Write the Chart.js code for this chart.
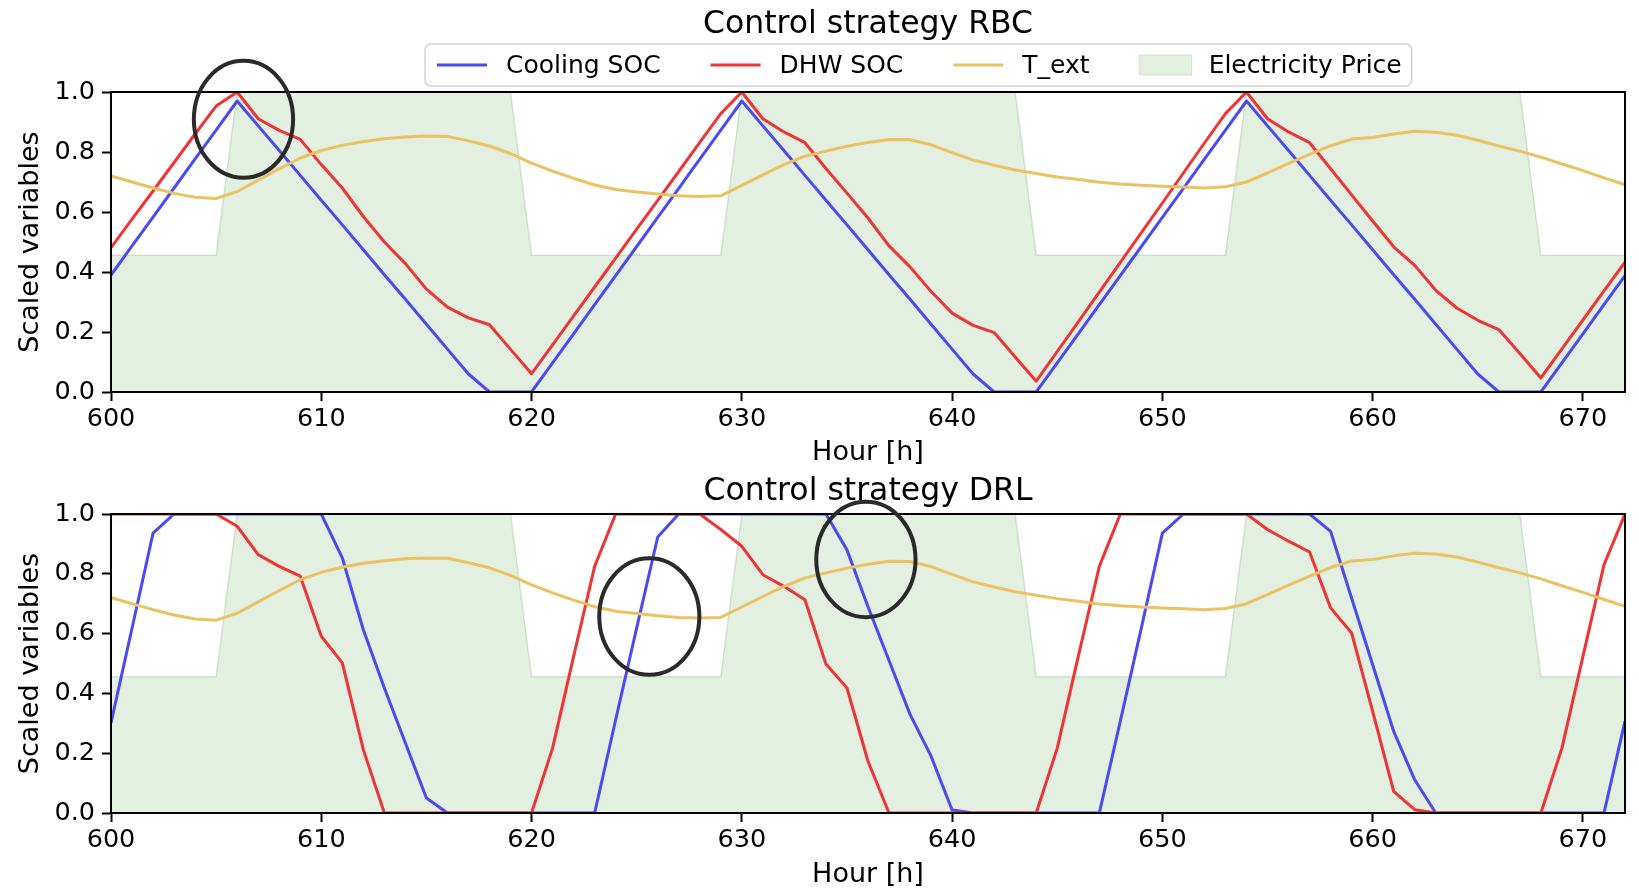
<!DOCTYPE html>
<html>
<head>
<meta charset="utf-8">
<title>Control strategy RBC / DRL</title>
<script src="https://cdn.jsdelivr.net/npm/chart.js@4.4.1/dist/chart.umd.min.js"></script>
<style>
  html, body { margin: 0; padding: 0; background: #fff; }
  body { width: 1639px; height: 893px; position: relative; overflow: hidden; }
  canvas { position: absolute; left: 0; }
  #rbc { top: 0; }
  #drl { top: 470px; }
</style>
</head>
<body>
<canvas id="rbc" width="1639" height="470"></canvas>
<canvas id="drl" width="1639" height="423"></canvas>
<script>
// ---- data -------------------------------------------------------------
const hours = [
  600, 601, 602, 603, 604, 605, 606, 607, 608, 609,
  610, 611, 612, 613, 614, 615, 616, 617, 618, 619,
  620, 621, 622, 623, 624, 625, 626, 627, 628, 629,
  630, 631, 632, 633, 634, 635, 636, 637, 638, 639,
  640, 641, 642, 643, 644, 645, 646, 647, 648, 649,
  650, 651, 652, 653, 654, 655, 656, 657, 658, 659,
  660, 661, 662, 663, 664, 665, 666, 667, 668, 669,
  670, 671, 672
];

// outdoor temperature (scaled), shared by both strategies
const tExt = [
  0.720, 0.700, 0.680, 0.662, 0.649, 0.645, 0.668, 0.706, 0.744, 0.780,
  0.805, 0.822, 0.835, 0.844, 0.850, 0.853, 0.852, 0.837, 0.820, 0.795,
  0.763, 0.736, 0.712, 0.690, 0.675, 0.667, 0.660, 0.654, 0.652, 0.654,
  0.689, 0.724, 0.758, 0.786, 0.803, 0.819, 0.832, 0.842, 0.841, 0.824,
  0.798, 0.773, 0.756, 0.740, 0.728, 0.717, 0.708, 0.699, 0.693, 0.689,
  0.686, 0.683, 0.680, 0.684, 0.700, 0.730, 0.762, 0.792, 0.821, 0.843,
  0.848, 0.860, 0.869, 0.866, 0.856, 0.839, 0.820, 0.803, 0.783, 0.760,
  0.738, 0.714, 0.691
];

// electricity price (scaled): off-peak / peak tariff
const price = [
  0.456, 0.456, 0.456, 0.456, 0.456, 0.456, 1, 1, 1, 1,
  1, 1, 1, 1, 1, 1, 1, 1, 1, 1,
  0.456, 0.456, 0.456, 0.456, 0.456, 0.456, 0.456, 0.456, 0.456, 0.456,
  1, 1, 1, 1, 1, 1, 1, 1, 1, 1,
  1, 1, 1, 1, 0.456, 0.456, 0.456, 0.456, 0.456, 0.456,
  0.456, 0.456, 0.456, 0.456, 1, 1, 1, 1, 1, 1,
  1, 1, 1, 1, 1, 1, 1, 1, 0.456, 0.456,
  0.456, 0.456, 0.456
];

// rule-based controller
const rbcCooling = [
  0.390, 0.487, 0.583, 0.680, 0.777, 0.873, 0.970, 0.887, 0.805, 0.722,
  0.639, 0.557, 0.474, 0.391, 0.309, 0.226, 0.143, 0.060, 0, 0,
  0, 0.097, 0.194, 0.291, 0.388, 0.485, 0.582, 0.679, 0.776, 0.873,
  0.970, 0.887, 0.805, 0.722, 0.639, 0.557, 0.474, 0.391, 0.309, 0.226,
  0.143, 0.060, 0, 0, 0, 0.097, 0.194, 0.291, 0.388, 0.485,
  0.582, 0.679, 0.776, 0.873, 0.970, 0.887, 0.805, 0.722, 0.639, 0.557,
  0.474, 0.391, 0.309, 0.226, 0.143, 0.060, 0, 0, 0, 0.097,
  0.194, 0.291, 0.388
];
const rbcDhw = [
  0.481, 0.576, 0.670, 0.765, 0.860, 0.953, 1.000, 0.911, 0.872, 0.842,
  0.758, 0.680, 0.585, 0.500, 0.428, 0.343, 0.283, 0.247, 0.224, 0.142,
  0.061, 0.157, 0.254, 0.350, 0.446, 0.543, 0.639, 0.735, 0.832, 0.928,
  1.000, 0.911, 0.867, 0.831, 0.745, 0.663, 0.580, 0.487, 0.417, 0.335,
  0.263, 0.222, 0.198, 0.117, 0.036, 0.135, 0.234, 0.333, 0.432, 0.531,
  0.630, 0.730, 0.830, 0.928, 1.000, 0.911, 0.867, 0.831, 0.744, 0.657,
  0.570, 0.484, 0.422, 0.339, 0.280, 0.239, 0.208, 0.128, 0.047, 0.144,
  0.240, 0.337, 0.433
];

// deep reinforcement learning controller
const drlCooling = [
  0.301, 0.618, 0.936, 1, 1, 1, 1, 1, 1, 1,
  1, 0.853, 0.613, 0.418, 0.234, 0.050, 0, 0, 0, 0,
  0, 0, 0, 0, 0.312, 0.619, 0.923, 1, 1, 1,
  1, 1, 1, 1, 1, 0.880, 0.690, 0.510, 0.330, 0.190,
  0.010, 0, 0, 0, 0, 0, 0, 0, 0.307, 0.619,
  0.936, 1, 1, 1, 1, 1, 1, 1, 0.942, 0.718,
  0.496, 0.273, 0.111, 0, 0, 0, 0, 0, 0, 0,
  0, 0, 0.307
];
const drlDhw = [
  1, 1, 1, 1, 1, 1, 0.959, 0.864, 0.825, 0.792,
  0.591, 0.502, 0.212, 0, 0, 0, 0, 0, 0, 0,
  0, 0.217, 0.524, 0.825, 1, 1, 1, 1, 1, 0.948,
  0.892, 0.797, 0.758, 0.713, 0.498, 0.418, 0.173, 0, 0, 0,
  0, 0, 0, 0, 0, 0.217, 0.524, 0.825, 1, 1,
  1, 1, 1, 1, 1, 0.948, 0.909, 0.873, 0.686, 0.602,
  0.340, 0.072, 0.011, 0, 0, 0, 0, 0, 0, 0.217,
  0.524, 0.830, 1
];

const xTickValues = [600, 610, 620, 630, 640, 650, 660, 670];
const yTickValues = [0, 0.2, 0.4, 0.6, 0.8, 1.0];

// highlighted regions (hour, value, half-width in hours, half-height in value units)
const rbcHighlights = [{ hour: 606.3, value: 0.909, rx: 2.36, ry: 0.195 }];
const drlHighlights = [
  { hour: 625.6, value: 0.657, rx: 2.38, ry: 0.195 },
  { hour: 635.9, value: 0.848, rx: 2.36, ry: 0.193 }
];

// ---- styling ----------------------------------------------------------
const FONT = '"DejaVu Sans", "Liberation Sans", sans-serif';
const COLORS = {
  cooling: '#4a4af2',
  dhw: '#ee3434',
  text: '#eac262',
  priceFill: '#e3efe1',
  priceEdge: 'rgba(140, 190, 140, 0.35)'
};

function series(values) {
  return hours.map((h, i) => ({ x: h, y: values[i] }));
}

function buildDatasets(cooling, dhw) {
  const line = { borderWidth: 3, pointRadius: 0, tension: 0, fill: false,
                 borderJoinStyle: 'round', borderCapStyle: 'butt' };
  return [
    { ...line, label: 'Cooling SOC', data: series(cooling), borderColor: COLORS.cooling, order: 3 },
    { ...line, label: 'DHW SOC', data: series(dhw), borderColor: COLORS.dhw, order: 2 },
    { ...line, label: 'T_ext', data: series(tExt), borderColor: COLORS.text, order: 1 },
    { label: 'Electricity Price', data: series(price), borderColor: COLORS.priceEdge,
      backgroundColor: COLORS.priceFill, borderWidth: 1.5, pointRadius: 0, tension: 0,
      fill: 'origin', order: 4 }
  ];
}

// frame, heading, legend and highlight ellipses
const framePlugin = {
  id: 'frameAndNotes',
  afterDraw(chart, args, opts) {
    const { ctx, chartArea: a, scales: { x, y } } = chart;
    ctx.save();

    // axes box
    ctx.strokeStyle = '#000';
    ctx.lineWidth = 2;
    ctx.strokeRect(a.left, a.top, a.right - a.left, a.bottom - a.top);

    // heading
    ctx.fillStyle = '#000';
    ctx.font = `31.5px ${FONT}`;
    ctx.textAlign = 'center';
    ctx.textBaseline = 'alphabetic';
    ctx.fillText(opts.heading, (a.left + a.right) / 2, opts.headingBaseline);

    // legend
    if (opts.legend) {
      const L = opts.legend;
      ctx.font = `${L.fontSize}px ${FONT}`;
      const items = chart.data.datasets;
      let width = L.padLeft;
      items.forEach((d, i) => {
        width += L.handle + L.handlePad + ctx.measureText(d.label).width;
        if (i < items.length - 1) width += L.gap;
      });
      width += L.padRight;
      const top = L.top, h = L.height, left = L.left, cy = top + h / 2;
      ctx.beginPath();
      ctx.roundRect(left, top, width, h, 6);
      ctx.fillStyle = 'rgba(255,255,255,0.85)';
      ctx.fill();
      ctx.strokeStyle = '#d2d2d2';
      ctx.lineWidth = 1.5;
      ctx.stroke();
      let cx = left + L.padLeft;
      items.forEach(d => {
        if (d.fill === 'origin') {
          ctx.fillStyle = d.backgroundColor;
          ctx.fillRect(cx, cy - 10, L.handle + 2, 20);
          ctx.strokeStyle = d.borderColor;
          ctx.lineWidth = 1;
          ctx.strokeRect(cx, cy - 10, L.handle + 2, 20);
        } else {
          ctx.strokeStyle = d.borderColor;
          ctx.lineWidth = 3;
          ctx.beginPath();
          ctx.moveTo(cx, cy);
          ctx.lineTo(cx + L.handle, cy);
          ctx.stroke();
        }
        cx += L.handle + L.handlePad;
        ctx.fillStyle = '#000';
        ctx.textAlign = 'left';
        ctx.textBaseline = 'middle';
        ctx.fillText(d.label, cx, cy + 1);
        cx += ctx.measureText(d.label).width + L.gap;
      });
    }

    // highlight ellipses
    ctx.strokeStyle = '#2a2a2a';
    ctx.lineWidth = 4;
    (opts.highlights || []).forEach(m => {
      const px = x.getPixelForValue(m.hour);
      const py = y.getPixelForValue(m.value);
      const rx = x.getPixelForValue(m.hour + m.rx) - px;
      const ry = py - y.getPixelForValue(m.value + m.ry);
      ctx.beginPath();
      ctx.ellipse(px, py, rx, ry, 0, 0, Math.PI * 2);
      ctx.stroke();
    });
    ctx.restore();
  }
};

function buildOptions(cfg) {
  const tickFont = { family: FONT, size: 25.5 };
  const labelFont = { family: FONT, size: 27 };
  return {
    responsive: false,
    animation: false,
    devicePixelRatio: 1,
    events: [],
    layout: { padding: { top: cfg.top, right: 14, bottom: 0, left: 0 } },
    plugins: {
      legend: { display: false },
      title: { display: false },
      tooltip: { enabled: false },
      frameAndNotes: {
        heading: cfg.heading,
        headingBaseline: cfg.headingBaseline,
        legend: cfg.legend,
        highlights: cfg.highlights
      }
    },
    scales: {
      x: {
        type: 'linear', min: 600, max: 672,
        afterBuildTicks: s => { s.ticks = xTickValues.map(v => ({ value: v })); },
        afterFit: s => { s.height = cfg.xAxisHeight; },
        ticks: { font: tickFont, color: '#000', padding: 3, maxRotation: 0, autoSkip: false,
                 callback: v => String(v) },
        grid: { display: true, drawOnChartArea: false, drawTicks: true, tickLength: 9,
                tickWidth: 2, tickColor: '#000' },
        border: { display: true, color: '#000', width: 2 },
        title: { display: true, text: 'Hour [h]', font: labelFont, color: '#000',
                 padding: { top: 0, bottom: cfg.xTitlePad } }
      },
      y: {
        min: 0, max: 1,
        afterBuildTicks: s => { s.ticks = yTickValues.map(v => ({ value: v })); },
        afterFit: s => { s.width = 111; },
        ticks: { font: tickFont, color: '#000', padding: 7, callback: v => Number(v).toFixed(1) },
        grid: { display: true, drawOnChartArea: false, drawTicks: true, tickLength: 9,
                tickWidth: 2, tickColor: '#000' },
        border: { display: true, color: '#000', width: 2 },
        title: { display: true, text: 'Scaled variables', font: labelFont, color: '#000',
                 padding: { top: 15, bottom: 0 } }
      }
    }
  };
}

new Chart(document.getElementById('rbc'), {
  type: 'line',
  data: { datasets: buildDatasets(rbcCooling, rbcDhw) },
  options: buildOptions({
    top: 92, xAxisHeight: 78, xTitlePad: 1,
    heading: 'Control strategy RBC', headingBaseline: 33,
    highlights: rbcHighlights,
    legend: { left: 425, top: 44, height: 42, padLeft: 12, padRight: 10,
              handle: 50, handlePad: 19, gap: 50, fontSize: 25 }
  }),
  plugins: [framePlugin]
});

new Chart(document.getElementById('drl'), {
  type: 'line',
  data: { datasets: buildDatasets(drlCooling, drlDhw) },
  options: buildOptions({
    top: 44, xAxisHeight: 80, xTitlePad: 2,
    heading: 'Control strategy DRL', headingBaseline: 30,
    highlights: drlHighlights,
    legend: null
  }),
  plugins: [framePlugin]
});
</script>
</body>
</html>
